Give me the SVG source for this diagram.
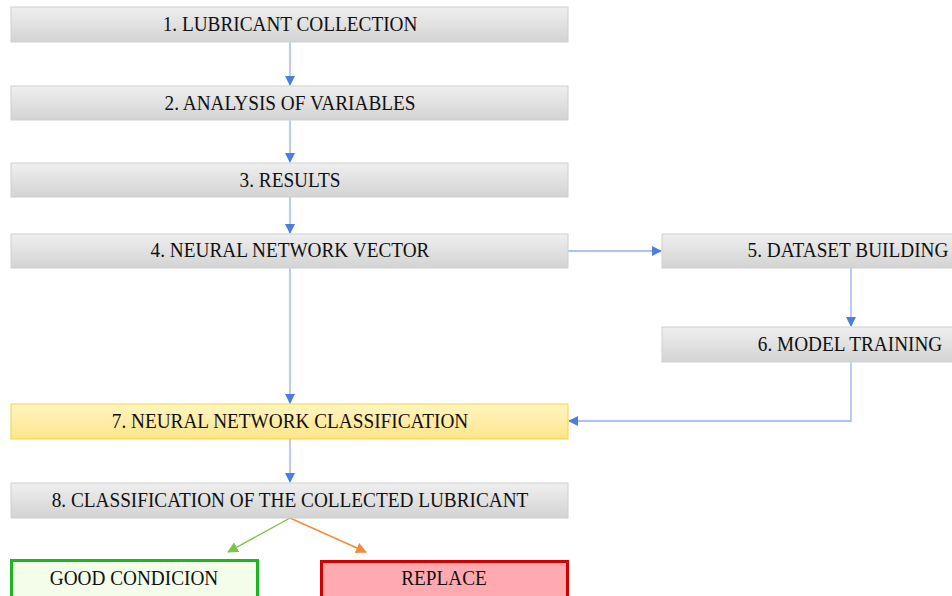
<svg xmlns="http://www.w3.org/2000/svg" width="952" height="596" viewBox="0 0 952 596">
  <defs>
    <linearGradient id="grey" x1="0" y1="0" x2="0" y2="1">
      <stop offset="0" stop-color="#efefef"/>
      <stop offset="1" stop-color="#d3d3d3"/>
    </linearGradient>
    <linearGradient id="yellow" x1="0" y1="0" x2="0" y2="1">
      <stop offset="0" stop-color="#fff5c2"/>
      <stop offset="1" stop-color="#ffe58a"/>
    </linearGradient>
    <marker id="ab" viewBox="0 0 10 10" refX="9" refY="5" markerWidth="10" markerHeight="10" markerUnits="userSpaceOnUse" orient="auto">
      <path d="M0,0 L10,5 L0,10 z" fill="#4a7fdc"/>
    </marker>
    <marker id="ag" viewBox="0 0 10 10" refX="9" refY="5" markerWidth="11" markerHeight="11" markerUnits="userSpaceOnUse" orient="auto">
      <path d="M0,0 L10,5 L0,10 z" fill="#7cc447"/>
    </marker>
    <marker id="ao" viewBox="0 0 10 10" refX="9" refY="5" markerWidth="11" markerHeight="11" markerUnits="userSpaceOnUse" orient="auto">
      <path d="M0,0 L10,5 L0,10 z" fill="#f58a3a"/>
    </marker>
  </defs>
  <style>
    .box { fill: url(#grey); stroke: #cfcfcf; stroke-width: 1; }
    .hl { fill: url(#yellow); stroke: #f4d43c; stroke-width: 1; }
    .lbl { font-family: "Liberation Serif", "Times New Roman", serif; font-size: 20.5px; fill: #111; text-anchor: middle; }
    .c { fill: none; stroke: #8fb2ee; stroke-width: 1.3; }
  </style>
  <rect width="952" height="596" fill="#ffffff"/>

  <g id="connectors">
    <line class="c" x1="290" y1="42" x2="290" y2="85" marker-end="url(#ab)"/>
    <line class="c" x1="290" y1="120" x2="290" y2="162" marker-end="url(#ab)"/>
    <line class="c" x1="290" y1="197" x2="290" y2="233" marker-end="url(#ab)"/>
    <line class="c" x1="568" y1="251" x2="661" y2="251" marker-end="url(#ab)"/>
    <line class="c" x1="851" y1="268" x2="851" y2="326" marker-end="url(#ab)"/>
    <line class="c" x1="290" y1="268" x2="290" y2="403" marker-end="url(#ab)"/>
    <polyline class="c" points="851,362 851,421 569,421" marker-end="url(#ab)"/>
    <line class="c" x1="290" y1="439" x2="290" y2="482" marker-end="url(#ab)"/>
    <line x1="290" y1="518" x2="228" y2="552" stroke="#7cc447" stroke-width="1.4" marker-end="url(#ag)"/>
    <line x1="290" y1="518" x2="366" y2="552" stroke="#f58a3a" stroke-width="1.4" marker-end="url(#ao)"/>
  </g>

  <g id="n1"><rect class="box" x="11" y="7" width="557" height="35"/><text class="lbl" transform="translate(290 31) scale(0.94 1)">1. LUBRICANT COLLECTION</text></g>
  <g id="n2"><rect class="box" x="11" y="86" width="557" height="34"/><text class="lbl" transform="translate(290 109.5) scale(0.94 1)">2. ANALYSIS OF VARIABLES</text></g>
  <g id="n3"><rect class="box" x="11" y="163" width="557" height="34"/><text class="lbl" transform="translate(290 186.5) scale(0.94 1)">3. RESULTS</text></g>
  <g id="n4"><rect class="box" x="11" y="234" width="557" height="34"/><text class="lbl" transform="translate(290 257) scale(0.94 1)">4. NEURAL NETWORK VECTOR</text></g>
  <g id="n5"><rect class="box" x="662" y="234" width="378" height="34"/><text class="lbl" transform="translate(848 257) scale(0.94 1)">5. DATASET BUILDING</text></g>
  <g id="n6"><rect class="box" x="662" y="327" width="378" height="35"/><text class="lbl" transform="translate(850 351) scale(0.94 1)">6. MODEL TRAINING</text></g>
  <g id="n7"><rect class="hl" x="11" y="404" width="557" height="35"/><text class="lbl" transform="translate(290 428) scale(0.94 1)">7. NEURAL NETWORK CLASSIFICATION</text></g>
  <g id="n8"><rect class="box" x="11" y="483" width="557" height="35"/><text class="lbl" transform="translate(290 507) scale(0.94 1)">8. CLASSIFICATION OF THE COLLECTED LUBRICANT</text></g>
  <g id="good"><rect x="11.5" y="560.5" width="246" height="40" fill="#f3fdea" stroke="#1fb51f" stroke-width="3"/><text class="lbl" transform="translate(134 585) scale(0.94 1)">GOOD CONDICION</text></g>
  <g id="replace"><rect x="321.5" y="561.5" width="246" height="40" fill="#ffa9b1" stroke="#d10000" stroke-width="3"/><text class="lbl" transform="translate(444 585) scale(0.94 1)">REPLACE</text></g>
</svg>
